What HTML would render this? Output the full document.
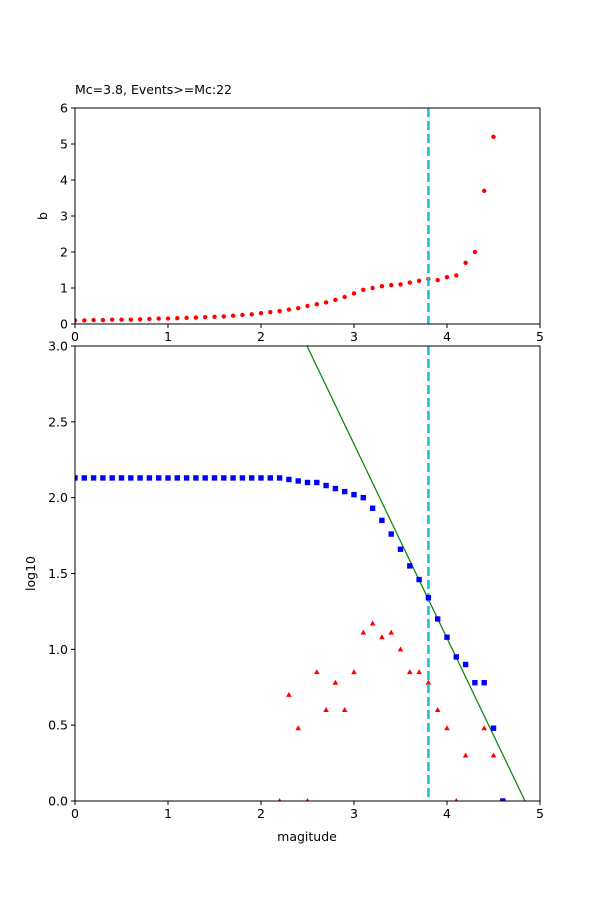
<!DOCTYPE html>
<html><head><meta charset="utf-8"><style>body{margin:0;background:#fff}svg{display:block;font-family:"DejaVu Sans","Liberation Sans",sans-serif}</style></head>
<body>
<svg id="s" width="600" height="900" viewBox="0 0 600 900" xmlns="http://www.w3.org/2000/svg">
<rect width="600" height="900" fill="#fff"/>
<defs>
<clipPath id="c1"><rect x="75" y="108" width="465" height="216"/></clipPath>
<clipPath id="c2"><rect x="75" y="346" width="465" height="455"/></clipPath>
</defs>
<text x="75" y="94" font-size="12.5">Mc=3.8, Events&gt;=Mc:22</text>
<g id="gtop"></g>
<g id="gbot"></g>
</svg>
<script>
(function(){
const NS="http://www.w3.org/2000/svg";
function el(p,t,a,txt){const e=document.createElementNS(NS,t);for(const k in a)e.setAttribute(k,a[k]);if(txt!==undefined)e.textContent=txt;p.appendChild(e);return e;}
const X=v=>75+v*93;
const gTop=document.getElementById('gtop'),gBot=document.getElementById('gbot');
const YT=v=>324-v*36, YB=v=>801-v*151.67;
const b=[0.1,0.1,0.11,0.11,0.12,0.12,0.12,0.13,0.14,0.15,0.15,0.16,0.17,0.18,0.19,0.2,0.21,0.23,0.25,0.27,0.3,0.33,0.36,0.4,0.44,0.5,0.55,0.6,0.67,0.75,0.85,0.95,1.0,1.05,1.08,1.1,1.15,1.2,1.25,1.22,1.3,1.35,1.7,2.0,3.7,5.2];
const gt=el(gTop,'g',{'clip-path':'url(#c1)'});
b.forEach((v,i)=>el(gt,'circle',{cx:X(i*0.1),cy:YT(v),r:2.2,fill:'#f00'}));
el(gt,'line',{x1:X(3.8),x2:X(3.8),y1:108,y2:324,stroke:'#17becf','stroke-width':2.5,'stroke-dasharray':'9,4'});
const gb=el(gBot,'g',{'clip-path':'url(#c2)'});
el(gb,'line',{x1:307,y1:346,x2:525,y2:801,stroke:'green','stroke-width':1.2});
const bl=[];for(let i=0;i<=22;i++)bl.push(2.13);
bl.push(2.12,2.11,2.10,2.10,2.08,2.06,2.04,2.02,2.0,1.93,1.85,1.76,1.66,1.55,1.46,1.34,1.2,1.08,0.95,0.9,0.78,0.78,0.48,0);
const tr={2.2:0,2.3:0.7,2.4:0.48,2.5:0,2.6:0.85,2.7:0.6,2.8:0.78,2.9:0.6,3.0:0.85,3.1:1.11,3.2:1.17,3.3:1.08,3.4:1.11,3.5:1.0,3.6:0.85,3.7:0.85,3.8:0.78,3.9:0.6,4.0:0.48,4.1:0,4.2:0.3,4.4:0.48,4.5:0.3};
for(const k in tr){const x=X(+k),y=YB(tr[k]);el(gb,'polygon',{points:`${x},${y-3} ${x-2.8},${y+2} ${x+2.8},${y+2}`,fill:'#f00'});}
el(gb,'line',{x1:X(3.8),x2:X(3.8),y1:346,y2:801,stroke:'#17becf','stroke-width':2.5,'stroke-dasharray':'9,4'});
bl.forEach((v,i)=>el(gb,'rect',{x:X(i*0.1)-2.7,y:YB(v)-2.7,width:5.4,height:5.4,fill:'#00f'}));
function axes(g,y0,y1,yt,yf,ylab,ly){
 el(g,'rect',{x:75,y:y0,width:465,height:y1-y0,fill:'none',stroke:'#000','stroke-width':1});
 for(let i=0;i<=5;i++){el(g,'line',{x1:X(i),x2:X(i),y1:y1,y2:y1+4,stroke:'#000'});el(g,'text',{x:X(i),y:y1+17,'font-size':12.5,'text-anchor':'middle'},i);}
 yt.forEach(v=>{const y=yf(v);el(g,'line',{x1:71,x2:75,y1:y,y2:y,stroke:'#000'});el(g,'text',{x:68,y:y+4.5,'font-size':12.5,'text-anchor':'end'},ylab==='log10'?v.toFixed(1):v);});
 el(g,'text',{x:0,y:0,'font-size':12.5,'text-anchor':'middle',transform:`translate(${ly},${(y0+y1)/2}) rotate(-90)`},ylab);
}
axes(gTop,108,324,[0,1,2,3,4,5,6],YT,'b',47);
axes(gBot,346,801,[0,0.5,1,1.5,2,2.5,3],YB,'log10',35);
el(gBot,'text',{x:307,y:841,'font-size':12.5,'text-anchor':'middle'},'magitude');
})();
</script>
</body></html>
